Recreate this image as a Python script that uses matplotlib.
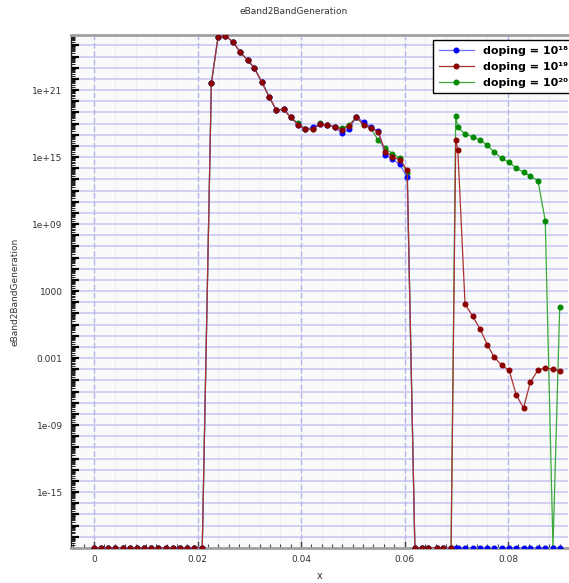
import numpy as np
import matplotlib
matplotlib.use('Agg')
import matplotlib.pyplot as plt
from matplotlib.ticker import FixedLocator, FixedFormatter, LogLocator, NullFormatter, MultipleLocator

# x positions of the mesh nodes
x = [0.0, 0.0014, 0.0027, 0.0041, 0.0055, 0.0069, 0.0083, 0.0096, 0.011, 0.0124,
     0.0138, 0.0152, 0.0166, 0.018, 0.0194, 0.0209,
     0.02266, 0.02394, 0.02538, 0.02685, 0.02821, 0.02965, 0.03093, 0.03243, 0.03384, 0.0352,
     0.03664, 0.038, 0.03942, 0.04083, 0.04227, 0.04369, 0.04505, 0.04647, 0.0479, 0.04926,
     0.05068, 0.0521, 0.05346, 0.0549, 0.05631, 0.05767, 0.05909, 0.06052,
     0.062, 0.0633, 0.0646, 0.0662, 0.0675, 0.069, 0.0699, 0.0703, 0.0717, 0.0732,
     0.0746, 0.076, 0.0773, 0.0788, 0.0802, 0.0816, 0.083, 0.0843, 0.0858, 0.0872,
     0.0887, 0.09]

zeros_left = [0.0] * 16

gen_1e18 = zeros_left + [
    4e21, 5.2e25, 6.8e25, 2.1e25, 2.5e24, 4.9e23, 1e23, 4.9e21, 2.5e20, 1.6e19,
    1.9e19, 3.5e18, 8.1e17, 3.2e17, 4.7e17, 8.5e17, 7.4e17, 5.1e17, 1.3e17, 3e17,
    4.1e18, 1.4e18, 5e17, 2.1e17, 1.7e15, 6.3e14, 2.2e14, 1.5e13,
    0, 0, 0, 0, 0, 0, 0, 0, 0, 0,
    0, 0, 0, 0, 0, 0, 0, 0, 0, 0,
    0, 0]

gen_1e19 = zeros_left + [
    4e21, 5.2e25, 6.8e25, 2.1e25, 2.5e24, 4.9e23, 1e23, 4.9e21, 2.5e20, 1.6e19,
    1.9e19, 3.5e18, 8.1e17, 3.2e17, 3.2e17, 8.5e17, 7.4e17, 5.1e17, 2.6e17, 6e17,
    3.6e18, 7.4e17, 3.7e17, 1.9e17, 3e15, 1.1e15, 5.4e14, 6.9e13,
    0, 0, 0, 0, 0, 0, 3.3e16, 4.3e15, 69, 5.5,
    0.4, 0.016, 1.3e-3, 2.2e-4, 8.5e-5, 5.2e-7, 3.4e-8, 6.8e-6, 8.5e-5, 1.3e-4,
    1e-4, 6.9e-5]

gen_1e20 = zeros_left + [
    4e21, 5.2e25, 6.8e25, 2.1e25, 2.5e24, 4.9e23, 1e23, 4.9e21, 2.5e20, 1.6e19,
    1.9e19, 3.5e18, 1.1e18, 3.2e17, 3.6e17, 1.05e18, 7.4e17, 5.1e17, 4e17, 7e17,
    3.8e18, 9e17, 4e17, 3.3e16, 6e15, 2e15, 8e14, 4e13,
    0, 0, 0, 0, 0, 0, 4.7e18, 4.6e17, 1.15e17, 6.6e16,
    3.3e16, 1.2e16, 2.8e15, 7.8e14, 3.4e14, 1.05e14, 4.3e13, 2e13, 7.6e12, 2e9,
    0, 40]

labels = ['doping = 10¹⁸', 'doping = 10¹⁹', 'doping = 10²⁰']
line_colors = ['#7070ff', '#a83232', '#3aa83a']
marker_colors = ['#0000ff', '#8b0000', '#008a00']
draw_order = [3, 4, 2]

ytick_values = [1e21, 1e15, 1e9, 1e3, 1e-3, 1e-9, 1e-15]
ytick_labels = ['1e+21', '1e+15', '1e+09', '1000', '0.001', '1e-09', '1e-15']
xtick_values = [0, 0.02, 0.04, 0.06, 0.08]
xtick_labels = ['0', '0.02', '0.04', '0.06', '0.08']

ymin, ymax = 1e-20, 10 ** 25.93

fig = plt.figure(figsize=(5.69, 5.83), dpi=100)
ax = fig.add_axes([71 / 569, 1 - 548 / 583, 497 / 569, 513 / 583])
ax.set_facecolor('#fafafa')

ax.set_yscale('log')
ax.set_ylim(ymin, ymax)
ax.set_xlim(-0.00447, 0.0916)

# faint minor vertical grid
for xv in np.arange(-0.004, 0.092, 0.004):
    ax.axvline(xv, color='#eeeeee', lw=0.8, zorder=0)
# decade gridlines
for e in range(-19, 26):
    ax.axhline(10.0 ** e, color='#d0d0f5', lw=1.4, zorder=0.5)
for xv in xtick_values:
    ax.axvline(xv, color='#b4b4ee', lw=1.0, ls=(0, (4, 2)), zorder=0.6)

for ys, lab, lc, mc, z in zip([gen_1e18, gen_1e19, gen_1e20], labels, line_colors,
                              marker_colors, draw_order):
    yv = np.array(ys)
    yv = np.where(yv > 0, yv, ymin)
    ax.plot(x, yv, color=lc, lw=0.9, marker='o', markersize=3.3,
            markerfacecolor=mc, markeredgecolor=mc, label=lab, zorder=z)

ax.yaxis.set_major_locator(FixedLocator([10.0 ** e for e in range(-19, 26)]))
ax.yaxis.set_major_formatter(FixedFormatter([
    ytick_labels[ytick_values.index(10.0 ** e)] if 10.0 ** e in ytick_values else ''
    for e in range(-19, 26)]))
ax.yaxis.set_minor_locator(LogLocator(base=10, subs=np.arange(2, 10), numticks=100))
ax.yaxis.set_minor_formatter(NullFormatter())
ax.tick_params(axis='y', which='major', direction='in', length=6, width=1.6,
               color='black', labelsize=6.5, labelcolor='#333333', pad=6)
ax.tick_params(axis='y', which='minor', direction='in', length=3, width=0.6, color='black')

ax.xaxis.set_major_locator(FixedLocator(xtick_values))
ax.xaxis.set_major_formatter(FixedFormatter(xtick_labels))
ax.xaxis.set_minor_locator(MultipleLocator(0.002))
ax.tick_params(axis='x', which='major', direction='in', length=5, width=1.0,
               color='#444444', labelsize=6.5, labelcolor='#333333', pad=5)
ax.tick_params(axis='x', which='minor', direction='in', length=3, width=0.8, color='#444444')

for side in ['top', 'bottom']:
    ax.spines[side].set_color('#a0a0a0')
    ax.spines[side].set_linewidth(2)
ax.spines['left'].set_color('#222222')
ax.spines['left'].set_linewidth(1.0)
ax.spines['right'].set_visible(False)

ax.set_xlabel('x', fontsize=7, color='#333333', labelpad=5)
ax.set_ylabel('eBand2BandGeneration', fontsize=6.5, color='#333333', labelpad=9)
fig.text(294 / 569, 1 - 12 / 583, 'eBand2BandGeneration', ha='center', va='center',
         fontsize=6.5, color='#333333')

leg = ax.legend(loc='upper left', bbox_to_anchor=(433 / 569, 1 - 40 / 583),
                bbox_transform=fig.transFigure, frameon=True, fancybox=False,
                prop={'weight': 'bold', 'size': 8}, handlelength=3.2,
                borderpad=0.5, labelspacing=0.55, handletextpad=0.8, borderaxespad=0)
leg.get_frame().set_edgecolor('black')
leg.get_frame().set_linewidth(1.0)
leg.get_frame().set_alpha(1)
leg.set_zorder(10)

fig.savefig('out.png', dpi=100)
